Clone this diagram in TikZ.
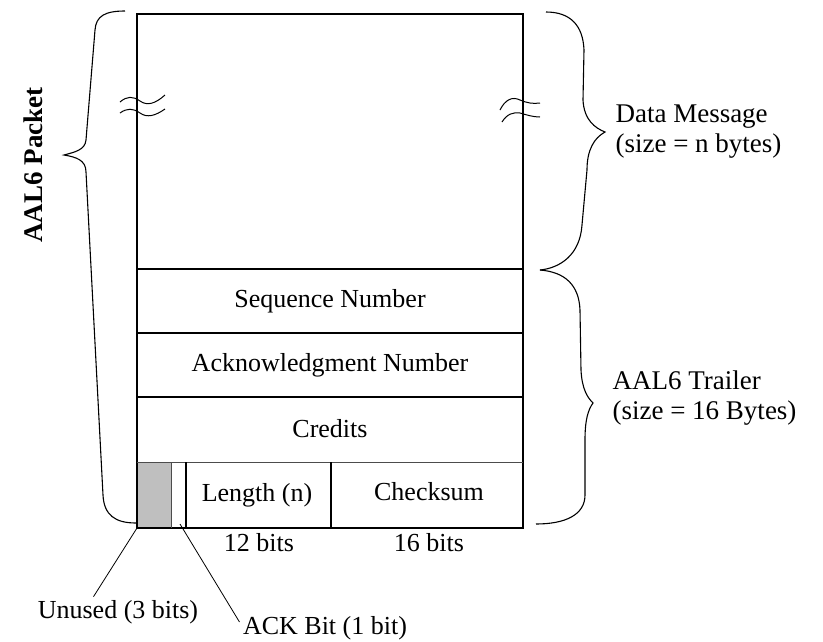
\documentclass[tikz,border=0pt]{standalone}
\usepackage{fontspec}
\setmainfont{Liberation Serif}
\begin{document}
\begin{tikzpicture}[x=1pt,y=-1pt,font=\fontsize{26}{30}\selectfont,
	frame/.style={line width=1.6pt},
	thinframe/.style={line width=1pt,gray!60!black},
	label/.style={font=\fontsize{27}{30}\selectfont,align=left,anchor=west},
	brace/.style={line width=1.1pt},
	wave/.style={line width=1pt},
	leader/.style={line width=0.8pt}]
		\useasboundingbox (0,0) rectangle (823,641);
		\fill[gray!50] (137,462) rectangle (171,528);
		\draw[frame] (137,14) rectangle (523,528);
		\draw[frame] (137,269) -- (523,269);
		\draw[frame] (137,333) -- (523,333);
		\draw[frame] (137,397) -- (523,397);
		\draw[thinframe] (137,462) -- (523,462);
		\draw[thinframe] (171,462) -- (171,528);
		\draw[frame] (186,462) -- (186,528);
		\draw[frame] (331,462) -- (331,528);
		\node (seq) at (330,301) {Sequence Number};
		\node (ack) at (330,365) {Acknowledgment Number};
		\node (cred) at (330,429) {Credits};
		\node (len) at (257,495) {Length (n)};
		\node (sum) at (429,492) {Checksum};
		\node (bits12) at (259,543) {12 bits};
		\node (bits16) at (429,543) {16 bits};
		\draw[wave] (120,102) .. controls (127,96) and (133,96) .. (140,101) .. controls (147,106) and (155,104) .. (165,95);
		\draw[wave] (120,113) .. controls (127,108) and (133,108) .. (140,113) .. controls (147,118) and (155,116) .. (165,109);
		\draw[wave] (500,110) .. controls (505,100) and (512,96) .. (520,100) .. controls (527,103) and (533,104) .. (540,103);
		\draw[wave] (502,122) .. controls (507,114) and (513,112) .. (520,113) .. controls (527,115) and (533,117) .. (540,117);
		\draw[brace] (125,11) .. controls (105,11) and (96,16) .. (95,30) -- (86,140) .. controls (85,150) and (75,152) .. (64,155) .. controls (76,157) and (86,160) .. (86,172) -- (103,495) .. controls (104,515) and (115,523) .. (136,523);
		\draw[brace] (546,12) .. controls (570,12) and (583,25) .. (584,50) -- (583,100) .. controls (584,120) and (595,128) .. (605,132) .. controls (594,138) and (587,150) .. (587,170) -- (582,225) .. controls (580,255) and (560,268) .. (540,270);
		\draw[brace] (540,270) .. controls (565,272) and (579,285) .. (580,310) -- (581,370) .. controls (582,390) and (588,398) .. (593,403) .. controls (588,410) and (585,420) .. (585,440) -- (585,495) .. controls (585,515) and (565,524) .. (536,524);
		\node[rotate=90,font=\fontsize{27}{30}\selectfont\bfseries] (packet) at (33,165) {AAL6 Packet};
		\node[label] (data) at (612,132) {Data Message\\(size = n bytes)};
		\node[label] (trailer) at (609,398) {AAL6 Trailer\\(size = 16 Bytes)};
		\node (unused) at (118,612) {Unused (3 bits)};
		\node (ackbit) at (325,628) {ACK Bit (1 bit)};
		\coordinate (corner) at (137,528);
		\coordinate (ackpt) at (180,524);
		\draw[leader] (corner) -- (unused.148);
		\draw[leader] (ackpt) -- (ackbit.176);
\end{tikzpicture}
\end{document}
